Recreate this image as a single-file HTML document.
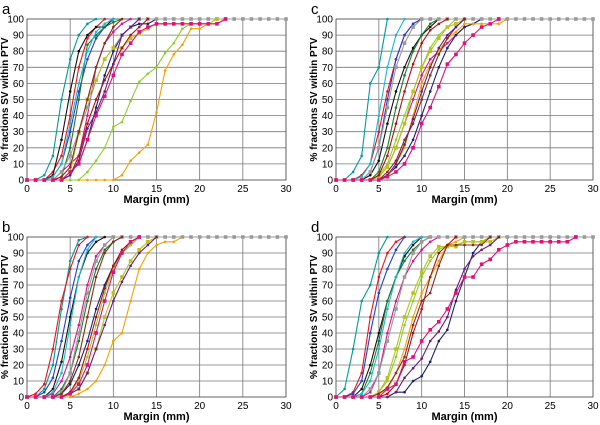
<!DOCTYPE html>
<html><head><meta charset="utf-8"><style>
html,body{margin:0;padding:0;background:#fff;}
svg{display:block;font-family:"Liberation Sans",sans-serif;}
</style></head><body>
<svg id="chart" width="600" height="425" viewBox="0 0 600 425"></svg>
<script>
// ---- data ----
const xTicks = [0,5,10,15,20,25,30];
const yTicks = [0,10,20,30,40,50,60,70,80,90,100];
const panelLabels = ['a','b','c','d'];
const seriesColors = ['#009a9a','#e8141b','#1f3fd6','#111111','#d4148c','#1d7a2a','#1a1f6e','#f5a000','#8ccf2b','#9a9a9a','#b8c21a','#8a2a1a','#b01010','#6a1a7a','#19b8d0','#e0107a'];
const panelA = [
 [0,0,3,15,50,75,90,97,100,100],
 [0,0,0,5,15,40,70,88,95,100],
 [0,0,0,2,10,30,55,75,88,95,100],
 [0,0,0,3,25,55,80,90,95,95,100],
 [0,0,0,0,5,10,15,40,70,85,92,97,100],
 [0,0,0,0,2,20,50,84,90,95,98,100],
 [0,0,0,0,0,5,10,25,45,65,80,90,95,97,97,100],
 [0,0,0,0,0,0,0,0,0,0,0,3,12,17,22,42,68,78,84,94,94,97,97,100],
 [0,0,0,0,0,0,0,5,12,20,33,36,49,61,66,70,79,85,94,97,97,97,97,100],
 [0,0,0,0,5,15,30,45,62,75,82,90,95,100,100,100,100,100,100,100,100,100,100,100,100,100,100,100,100,100,100],
 [0,0,0,0,0,5,29,50,62,75,82,82,88,91,94,97,97,97,97,97,97,97,100],
 [0,0,0,0,2,8,30,50,70,85,95,100],
 [0,0,0,0,0,3,15,35,50,62,72,82,90,95,100],
 [0,0,0,0,0,3,12,32,42,55,72,90,95,100],
 [0,0,0,2,10,35,60,80,92,97,100],
 [0,0,0,0,0,5,10,25,40,52,65,78,85,92,95,97,97,97,97,97,97,97,97,100]
];
const panelB = [
 [0,0,5,20,55,85,98,100],
 [0,2,8,30,60,80,95,100],
 [0,0,3,12,35,62,85,95,100],
 [0,0,0,5,22,50,75,90,97,100],
 [0,0,0,2,10,25,45,70,88,95,100],
 [0,0,0,0,5,15,35,60,80,92,97,100],
 [0,0,0,0,2,8,20,35,55,70,82,90,95,100],
 [0,0,0,0,0,0,2,5,10,20,35,40,60,80,90,95,97,97,100],
 [0,0,0,0,0,3,10,25,45,65,80,90,95,100],
 [0,0,0,0,3,15,40,65,85,95,100,100,100,100,100,100,100,100,100,100,100,100,100,100,100,100,100,100,100,100,100],
 [0,0,0,0,0,2,5,15,30,50,65,75,85,92,97,100],
 [0,0,0,0,2,10,25,50,75,90,97,100],
 [0,0,0,0,0,3,12,30,50,68,82,92,97,100],
 [0,0,0,0,0,2,5,15,30,45,60,72,82,90,95,100],
 [0,0,0,3,15,45,75,92,100],
 [0,0,0,0,0,2,8,20,40,60,78,90,97,100]
];
const panelC = [
 [0,0,5,15,60,70,100],
 [0,0,0,3,10,30,55,75,90,97,100],
 [0,0,0,0,5,20,50,75,90,97,100],
 [0,0,0,0,3,12,35,55,70,82,90,95,100],
 [0,0,0,0,0,2,8,20,35,50,65,75,80,85,90,95,97,100],
 [0,0,0,0,0,5,20,45,65,80,90,97,100],
 [0,0,0,0,0,0,3,8,15,25,40,55,70,82,90,95,97,100],
 [0,0,0,0,0,0,2,10,20,40,60,72,80,88,92,97,97,97,97,97,100],
 [0,0,0,0,0,3,10,25,40,55,70,82,90,95,100],
 [0,0,0,0,5,20,45,70,85,95,100,100,100,100,100,100,100,100,100,100,100,100,100,100,100,100,100,100,100,100,100],
 [0,0,0,0,0,2,8,20,35,55,70,80,88,95,97,100],
 [0,0,0,0,0,0,5,12,25,35,50,65,78,88,95,100],
 [0,0,0,0,0,3,15,35,55,72,85,93,97,100],
 [0,0,0,0,0,0,3,10,22,38,55,70,82,90,95,100],
 [0,0,0,2,10,40,70,90,100],
 [0,0,0,0,0,0,2,5,10,20,35,45,58,72,78,85,90,95,97,100]
];
const panelD = [
 [0,5,30,60,70,90,100],
 [0,0,3,15,50,75,90,97,100],
 [0,0,2,10,40,65,80,92,100],
 [0,0,0,5,20,40,60,75,88,95,100],
 [0,0,0,0,3,15,40,60,75,85,92,97,100],
 [0,0,0,2,15,35,60,75,85,92,97,100],
 [0,0,0,0,0,0,0,3,3,10,13,22,35,42,60,75,90,97,100],
 [0,0,0,0,0,2,5,15,30,50,65,75,85,95,97,100],
 [0,0,0,0,0,3,10,25,45,60,75,85,92,95,95,97,97,97,100],
 [0,0,0,0,5,15,35,55,75,90,97,100,100,100,100,100,100,100,100,100,100,100,100,100,100,100,100,100,100,100,100],
 [0,0,0,0,0,3,12,30,50,65,78,88,94,94,94,97,97,97,97,100],
 [0,0,0,0,0,2,6,15,25,45,60,65,82,95,95,95,95,95,100],
 [0,0,0,0,0,0,2,8,20,40,55,75,90,95,100],
 [0,0,0,0,0,0,0,3,12,18,24,35,41,50,67,80,88,92,95,100],
 [0,0,0,2,10,30,55,75,90,97,100],
 [0,0,0,0,0,0,5,8,22,25,35,42,47,55,65,75,75,83,86,92,95,97,97,97,97,97,97,97,100]
];
const panelData = [panelA, panelB, panelC, panelD];

// ---- layout ----
const NS = 'http://www.w3.org/2000/svg';
const svg = document.getElementById('chart');
const boxes = [
 {x0:27,x1:286,y0:180,y1:19},
 {x0:27,x1:286,y0:397,y1:237},
 {x0:336,x1:593,y0:180,y1:19},
 {x0:336,x1:593,y0:397,y1:237}
];
function mk(tag, attrs, parent){
  const e = document.createElementNS(NS, tag);
  for (const k in attrs) e.setAttribute(k, attrs[k]);
  (parent||svg).appendChild(e);
  return e;
}
boxes.forEach((b, pi) => {
  const g = mk('g', {});
  
  
  const xs = v => b.x0 + (b.x1 - b.x0) * v / 30;
  const ys = v => b.y0 + (b.y1 - b.y0) * v / 100;
  yTicks.forEach(t => {
    const l = mk('line', {x1:b.x0, x2:b.x1, y1:ys(t), y2:ys(t), stroke:'#777', 'stroke-width':0.8}, g);
    
    
    const tx = mk('text', {x:b.x0-3, y:ys(t)+3.5, 'font-size':10, 'text-anchor':'end', fill:'#000'}, g);
    tx.textContent = t;
    
    
  });
  xTicks.forEach(t => {
    const l = mk('line', {x1:xs(t), x2:xs(t), y1:b.y0, y2:b.y1, stroke:'#777', 'stroke-width':0.8}, g);
    
    
    const tx = mk('text', {x:xs(t), y:b.y0+12, 'font-size':10, 'text-anchor':'middle', fill:'#000'}, g);
    tx.textContent = t;
    
    
  });
  const fr = mk('rect', {x:b.x0, y:b.y1, width:b.x1-b.x0, height:b.y0-b.y1, fill:'none', stroke:'#555', 'stroke-width':0.8}, g);
  
  
  panelData[pi].forEach((ser, si) => {
    const col = seriesColors[si % seriesColors.length];
    const pts = ser.map((v, i) => xs(i).toFixed(1) + ',' + ys(v).toFixed(1)).join(' ');
    const pl = mk('polyline', {points:pts, fill:'none', stroke:col, 'stroke-width':1.1}, g);
    
    
    ser.forEach((v, i) => {
      let m;
      if (si === 9 || si === 10 || si === 15) {
        m = mk('rect', {x:xs(i)-1.8, y:ys(v)-1.8, width:3.6, height:3.6, fill:col}, g);
      } else {
        m = mk('circle', {cx:xs(i), cy:ys(v), r:1.3, fill:col}, g);
      }
      
      
    });
  });
  const lab = mk('text', {x:b.x0-25, y:b.y1-5, 'font-size':15, fill:'#000'}, g);
  lab.textContent = panelLabels[pi];
  
  
  const xt = mk('text', {x:(b.x0+b.x1)/2, y:b.y0+23, 'font-size':11, 'font-weight':'bold', 'text-anchor':'middle'}, g);
  xt.textContent = 'Margin (mm)';
  
  
  const cy = (b.y0+b.y1)/2, cx = b.x0-19;
  const yt = mk('text', {x:cx, y:cy, 'font-size':10, 'font-weight':'bold', 'text-anchor':'middle', transform:'rotate(-90 '+cx+' '+cy+')'}, g);
  yt.textContent = '% fractions SV within PTV';
  
  
});
</script>
</body></html>
